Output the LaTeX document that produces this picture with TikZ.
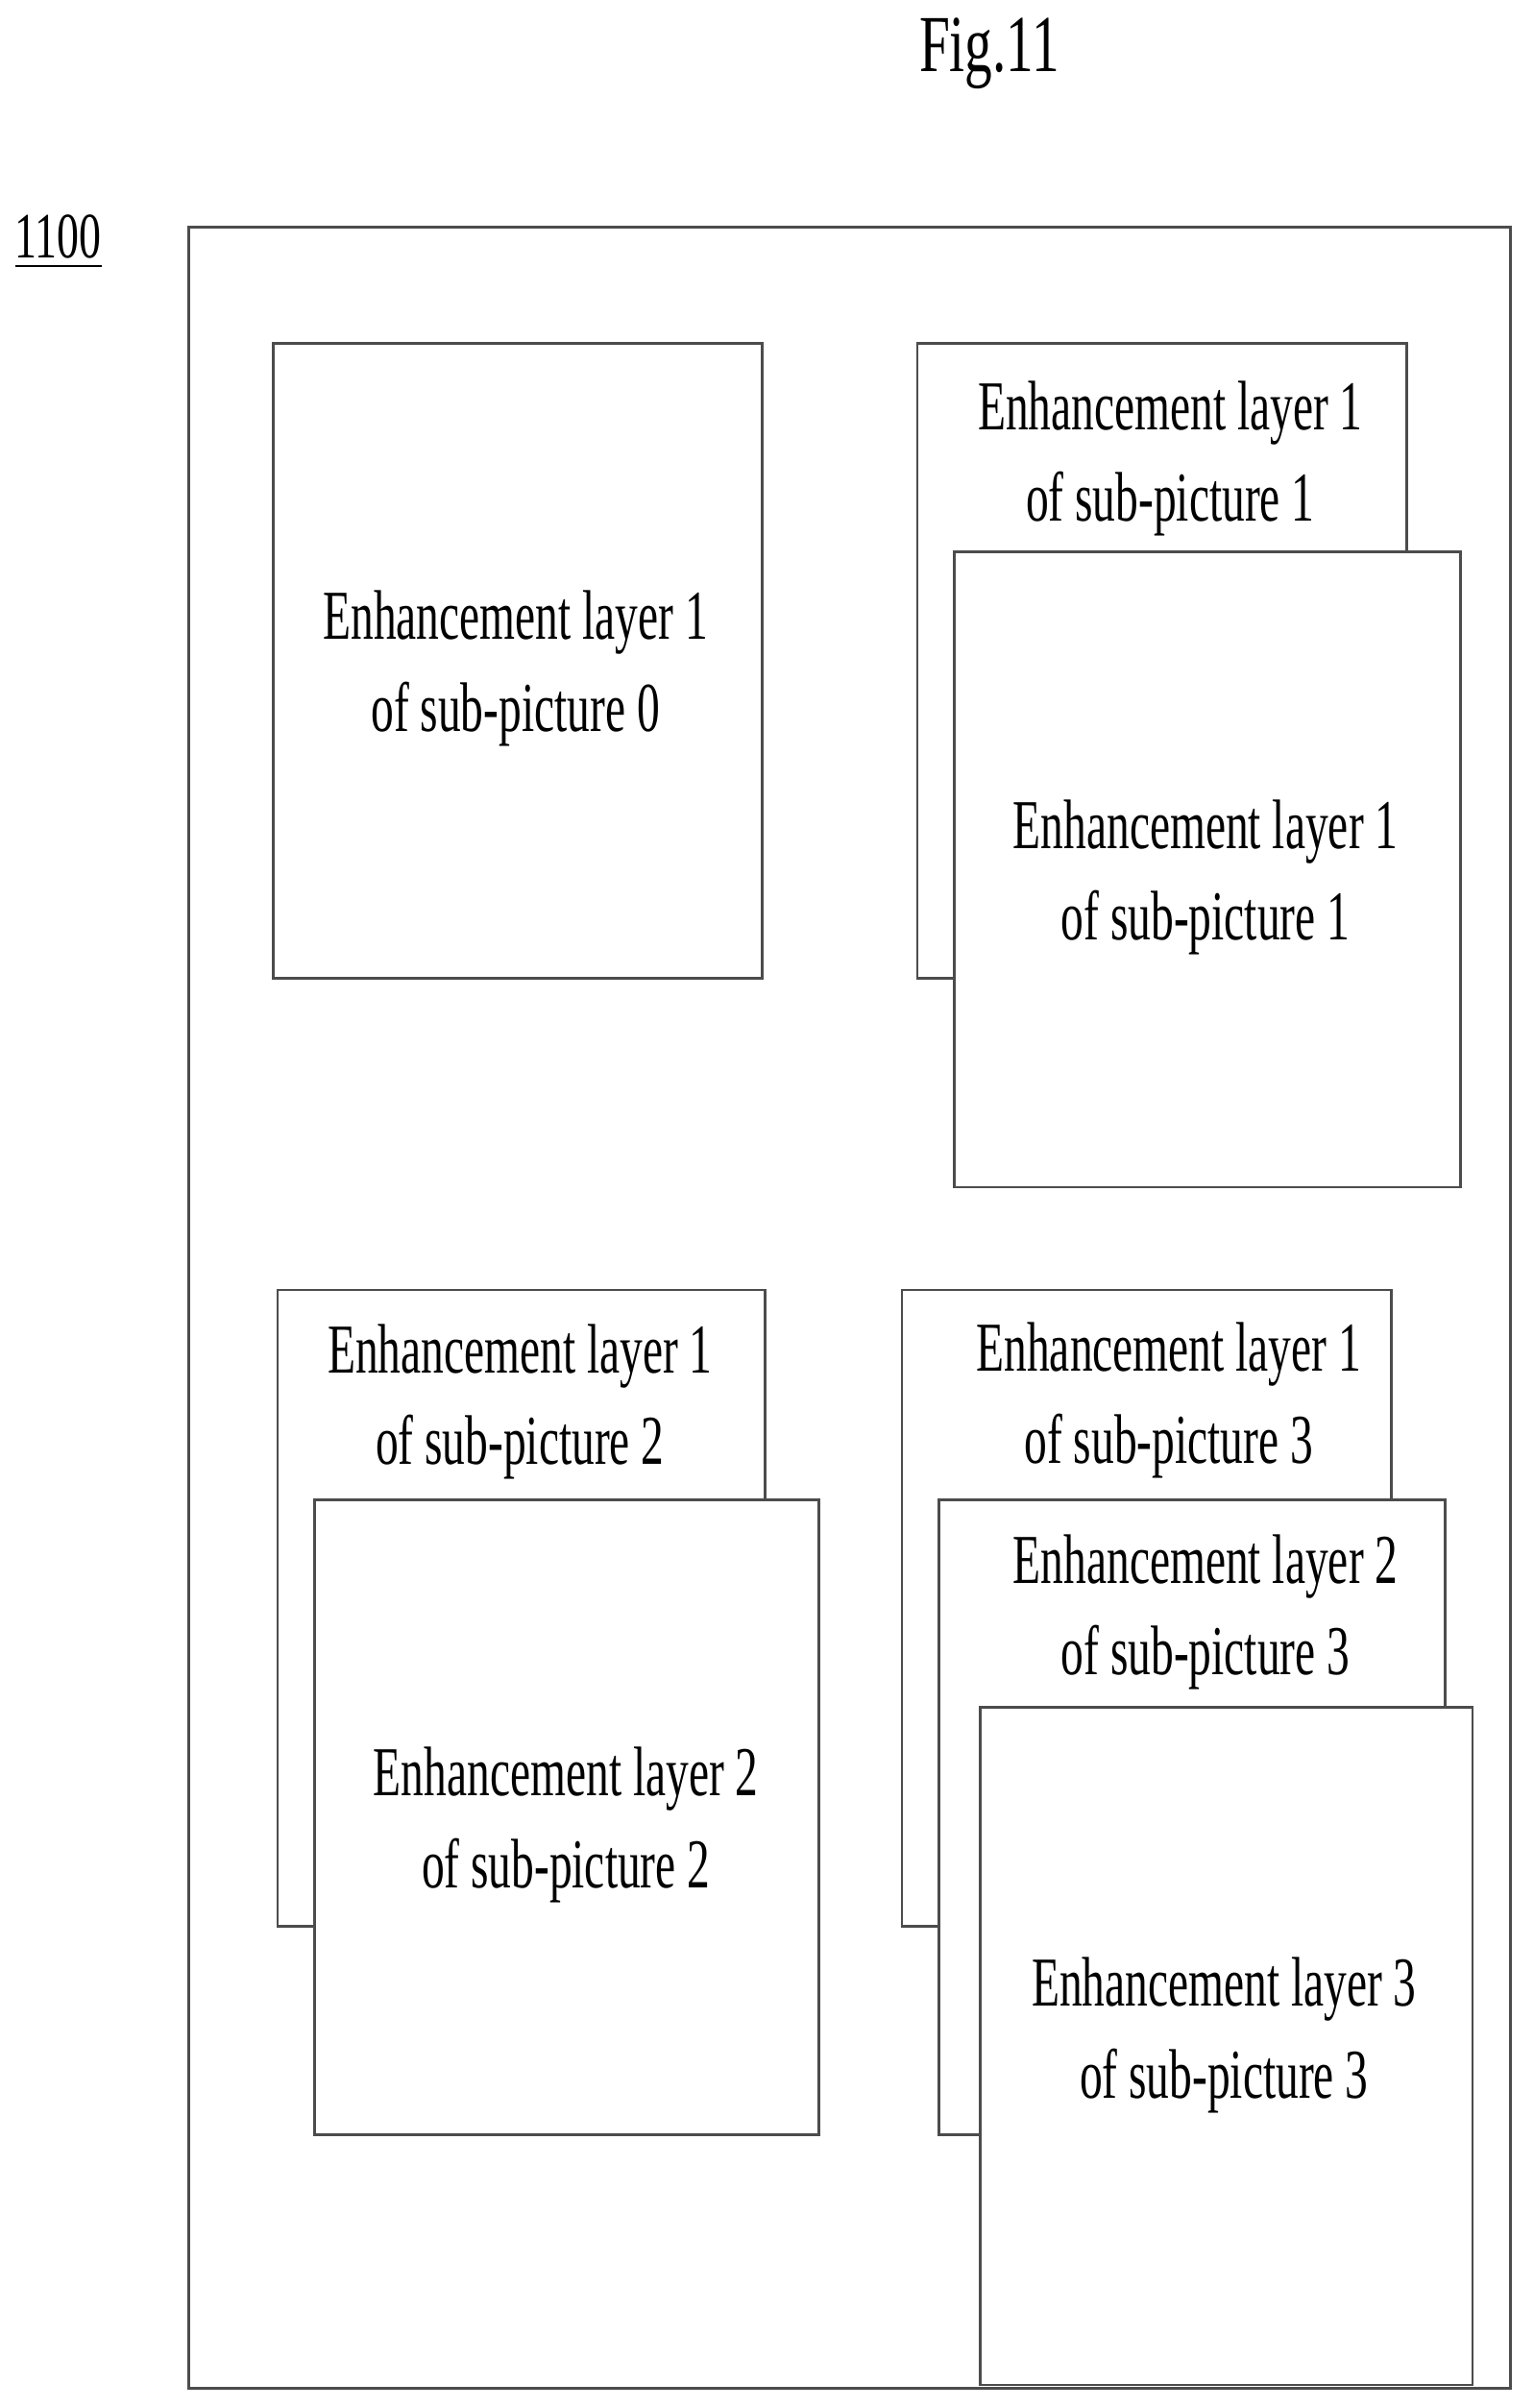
\documentclass[tikz,border=0pt]{standalone}
\usepackage{fontspec}
\usepackage{graphicx}
\setmainfont{Liberation Serif}
\newcommand{\lbl}[2]{\scalebox{0.65}[1]{\begin{tabular}{@{}c@{}}#1\\#2\end{tabular}}}
\begin{document}
\begin{tikzpicture}[x=0.01cm,y=-0.01cm,
  layer/.style={draw=black!70,line width=0.5pt,fill=white},
  txt/.style={font=\fontsize{13}{17}\selectfont,inner sep=0pt}]
\useasboundingbox (0,0) rectangle (1000,1570);
\node[txt,font=\fontsize{15}{18}\selectfont] (fig) at (645,35) {\scalebox{0.68}[1]{Fig.11}};
\node[txt,font=\fontsize{12}{14}\selectfont] (ref) at (38,158) {\scalebox{0.68}[1]{\underline{1100}}};

\draw[layer] (123,148) rectangle (985,1557);

% sub-picture 0
\draw[layer] (178,224) rectangle (497,638);
\node[txt] (t0) at (336,435) {\lbl{Enhancement layer 1}{of sub-picture 0}};

% sub-picture 1
\draw[layer] (598,224) rectangle (917,638);
\node[txt] (t1a) at (763,298) {\lbl{Enhancement layer 1}{of sub-picture 1}};
\draw[layer] (622,360) rectangle (952,774);
\node[txt] (t1b) at (786,571) {\lbl{Enhancement layer 1}{of sub-picture 1}};

% sub-picture 2
\draw[layer] (181,841) rectangle (499,1256);
\node[txt] (t2a) at (339,913) {\lbl{Enhancement layer 1}{of sub-picture 2}};
\draw[layer] (205,978) rectangle (534,1392);
\node[txt] (t2b) at (369,1189) {\lbl{Enhancement layer 2}{of sub-picture 2}};

% sub-picture 3
\draw[layer] (588,841) rectangle (907,1256);
\node[txt] (t3a) at (762,912) {\lbl{Enhancement layer 1}{of sub-picture 3}};
\draw[layer] (612,978) rectangle (942,1392);
\node[txt] (t3b) at (786,1050) {\lbl{Enhancement layer 2}{of sub-picture 3}};
\draw[layer] (639,1113) rectangle (960,1555);
\node[txt] (t3c) at (798,1326) {\lbl{Enhancement layer 3}{of sub-picture 3}};
\end{tikzpicture}
\end{document}
